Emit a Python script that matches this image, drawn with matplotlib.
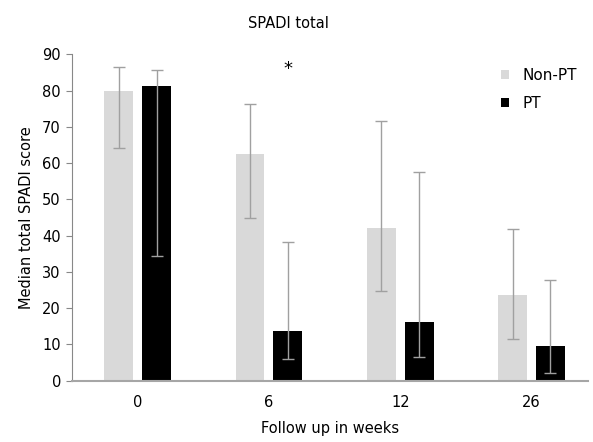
import numpy as np
import matplotlib.pyplot as plt

# data
weeks = ['0', '6', '12', '26']
non_pt = [80.0, 62.5, 42.1, 23.6]
non_pt_lo = [64.3, 44.8, 24.8, 11.4]
non_pt_hi = [86.6, 76.2, 71.7, 41.9]
pt = [81.3, 13.7, 16.2, 9.6]
pt_lo = [34.5, 5.9, 6.4, 2.2]
pt_hi = [85.8, 38.3, 57.5, 27.7]

plt.rcParams['font.family'] = ['DejaVu Sans']

fig = plt.figure(figsize=(5.93, 4.42), dpi=100)
ax = fig.add_axes([0.1214, 0.1387, 0.8702, 0.7383])

x = np.arange(len(weeks))
w = 0.22
off = 0.144

def errs(vals, lo, hi):
    v = np.array(vals)
    return [v - np.array(lo), np.array(hi) - v]

ax.bar(x - off, non_pt, w, color='#d9d9d9', label='Non-PT', zorder=2)
ax.bar(x + off, pt, w, color='black', label='PT', zorder=2)
ekw = dict(fmt='none', ecolor='#a0a0a0', elinewidth=1.0, capsize=4, capthick=1.0, zorder=3)
ax.errorbar(x - off, non_pt, yerr=errs(non_pt, non_pt_lo, non_pt_hi), **ekw)
ax.errorbar(x + off, pt, yerr=errs(pt, pt_lo, pt_hi), **ekw)

ax.text(1 + off, 86, '*', ha='center', va='center', fontsize=13)

ax.set_xlim(-0.5, 3.43)
ax.set_ylim(0, 90)
ax.set_yticks(range(0, 91, 10))
ax.set_xticks(x)
ax.set_xticklabels(weeks)
ax.tick_params(axis='x', length=0, pad=10, labelsize=10.5)
ax.tick_params(axis='y', length=4, color='#888888', direction='out', pad=4, labelsize=10.5)

for s in ['top', 'right']:
    ax.spines[s].set_visible(False)
ax.spines['left'].set_color('#888888')
ax.spines['bottom'].set_color('#a6a6a6')
ax.spines['bottom'].set_linewidth(1.5)

ax.set_ylabel('Median total SPADI score', fontsize=10.5, labelpad=6)
ax.set_xlabel('Follow up in weeks', fontsize=10.5, labelpad=8)
fig.text(288 / 593, 1 - 23 / 442, 'SPADI total', ha='center', va='center', fontsize=10.5)

ax.legend(loc='upper left', bbox_to_anchor=(0.805, 1.0), frameon=False,
          handlelength=0.5, handleheight=0.5, handletextpad=0.9, fontsize=11,
          labelspacing=0.85)

fig.savefig('out.png', dpi=100)
